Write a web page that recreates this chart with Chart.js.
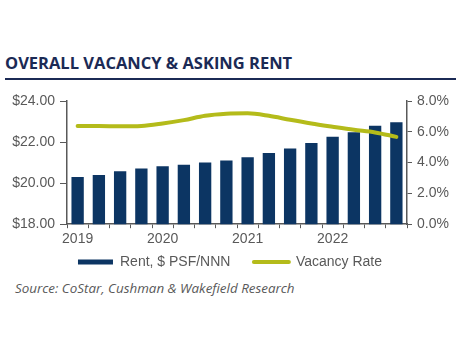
<!DOCTYPE html>
<html>
<head>
<meta charset="utf-8">
<script src="https://cdn.jsdelivr.net/npm/chart.js@4/dist/chart.umd.min.js"></script>
<style>
  html, body { margin: 0; padding: 0; background: #fff; }
  body { width: 460px; height: 345px; position: relative; overflow: hidden; }
  .title {
    position: absolute; left: 5px; top: 51px;
    font: 700 16.5px "Open Sans", sans-serif; color: #1b2a55;
    white-space: nowrap;
  }
  .rule { position: absolute; left: 5px; top: 78px; width: 451px; height: 2px; background: #1b2a55; }
  .wrap { position: absolute; left: 0; top: 86px; width: 460px; height: 193px; }
  .source {
    position: absolute; left: 15px; top: 279px;
    font: italic 13.4px "Open Sans", sans-serif; color: #595959; white-space: nowrap;
  }
</style>
</head>
<body>
<div class="title">OVERALL VACANCY &amp; ASKING RENT</div>
<div class="rule"></div>
<div class="wrap"><canvas id="rentChart"></canvas></div>
<div class="source">Source: CoStar, Cushman &amp; Wakefield Research</div>
<script>
// quarters 2019 Q1 .. 2022 Q4, only the first quarter of each year is labelled
const quarterLabels = ['2019', '', '', '', '2020', '', '', '', '2021', '', '', '', '2022', '', '', ''];
const rentPSF = [20.30, 20.40, 20.58, 20.71, 20.82, 20.90, 21.00, 21.10, 21.26, 21.47, 21.69, 21.95, 22.26, 22.48, 22.79, 22.97];
const vacancyRate = [6.37, 6.37, 6.36, 6.38, 6.54, 6.76, 7.04, 7.17, 7.20, 7.04, 6.78, 6.54, 6.33, 6.13, 5.96, 5.67];
const rentTicks = [18, 20, 22, 24];
const vacancyTicks = [0, 2, 4, 6, 8];

const NAVY = '#0c3563';
const LIME = '#b4bb1a';
const GREY = '#595959';
const tickFont = { family: '"Liberation Sans", Arial, sans-serif', size: 14 };

function fixWidth(w) {
    return (scale) => { scale.width = w; };
}

new Chart(document.getElementById('rentChart'), {
    data: {
        labels: quarterLabels,
        datasets: [
            {
                type: 'line',
                label: 'Vacancy Rate',
                data: vacancyRate,
                yAxisID: 'yVac',
                borderColor: LIME,
                backgroundColor: LIME,
                borderWidth: 4,
                borderCapStyle: 'round',
                cubicInterpolationMode: 'monotone',
                pointRadius: 0,
                order: 0
            },
            {
                type: 'bar',
                label: 'Rent, $ PSF/NNN',
                data: rentPSF,
                yAxisID: 'yRent',
                backgroundColor: NAVY,
                borderWidth: 0,
                categoryPercentage: 1,
                barPercentage: 0.58,
                order: 1
            }
        ]
    },
    options: {
        responsive: true,
        maintainAspectRatio: false,
        animation: false,
        layout: { padding: { top: 15, left: 0, right: 0, bottom: 0 } },
        plugins: {
            tooltip: { enabled: false },
            legend: {
                position: 'bottom',
                labels: {
                    usePointStyle: true,
                    pointStyleWidth: 35,
                    boxHeight: 5,
                    padding: 4,
                    color: GREY,
                    font: tickFont,
                    sort: (a, b) => b.datasetIndex - a.datasetIndex,
                    // trailing spaces widen the gap between the two legend items
                    generateLabels: (chart) => chart.data.datasets.map((ds, i) => ({
                        text: ds.type === 'bar' ? ds.label + '     ' : ds.label,
                        datasetIndex: i,
                        fillStyle: ds.type === 'bar' ? NAVY : LIME,
                        strokeStyle: ds.type === 'bar' ? NAVY : LIME,
                        lineWidth: ds.type === 'bar' ? 0 : 4,
                        lineCap: 'round',
                        pointStyle: ds.type === 'bar' ? 'rect' : 'line',
                        fontColor: GREY
                    }))
                }
            }
        },
        scales: {
            x: {
                offset: true,
                border: { color: GREY, width: 1.5 },
                grid: { display: true, offset: true, drawOnChartArea: false, drawTicks: true, tickLength: 4, color: GREY, tickWidth: 1 },
                ticks: { color: GREY, font: tickFont, autoSkip: false, maxRotation: 0, padding: 3 }
            },
            yRent: {
                position: 'left',
                min: 18,
                max: 24,
                afterFit: fixWidth(67),
                afterBuildTicks: (s) => { s.ticks = rentTicks.map(v => ({ value: v })); },
                border: { color: GREY, width: 1.5 },
                grid: { drawOnChartArea: false, drawTicks: true, tickLength: 7, color: GREY },
                ticks: { color: GREY, font: tickFont, padding: 5, callback: v => '$' + v.toFixed(2) }
            },
            yVac: {
                position: 'right',
                min: 0,
                max: 8,
                afterFit: fixWidth(53),
                afterBuildTicks: (s) => { s.ticks = vacancyTicks.map(v => ({ value: v })); },
                border: { color: GREY, width: 1.5 },
                grid: { drawOnChartArea: false, drawTicks: true, tickLength: 5, color: GREY },
                ticks: { color: GREY, font: tickFont, padding: 5, callback: v => v.toFixed(1) + '%' }
            }
        }
    }
});
</script>
</body>
</html>
